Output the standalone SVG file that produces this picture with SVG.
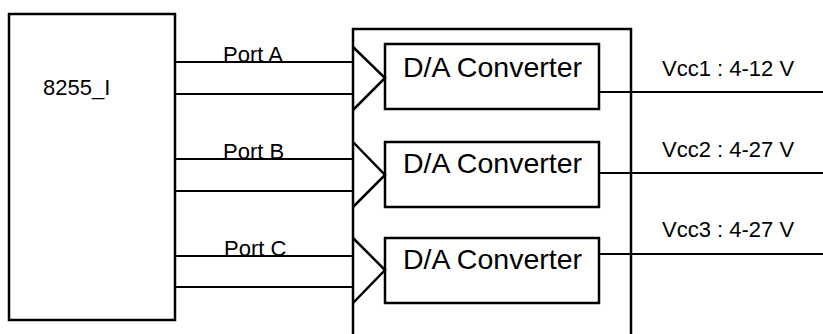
<svg xmlns="http://www.w3.org/2000/svg" width="823" height="334" viewBox="0 0 823 334">
<style>
.box{fill:none;stroke:#000;stroke-width:2.5}
.ln{fill:none;stroke:#000;stroke-width:2.2}
.t{font-family:"Liberation Sans",Arial,sans-serif;fill:#000}
.lab{font-size:22px}
.dac{font-size:28.5px}
.vcc{font-size:22px}
</style>
<rect width="823" height="334" fill="#fff"/>
<g id="chip">
<rect class="box" x="9" y="14" width="166" height="306"/>
<text class="t lab" x="43" y="95">8255_I</text>
</g>
<g id="module">
<path class="box" d="M353,334 V29 H631 V334"/>
</g>
<g id="dac1">
<rect class="box" x="385" y="44" width="214" height="65"/>
<text class="t dac" x="403" y="77">D/A Converter</text>
</g>
<g id="dac2">
<rect class="box" x="385" y="142" width="214" height="65"/>
<text class="t dac" x="403" y="173">D/A Converter</text>
</g>
<g id="dac3">
<rect class="box" x="385" y="238" width="214" height="65"/>
<text class="t dac" x="403" y="269">D/A Converter</text>
</g>
<g id="connectors">
<path class="ln" d="M175,62 H353 M175,94 H353 M175,159 H353 M175,191 H353 M175,256 H353 M175,287 H353"/>
<path class="box" d="M353,47 L385,78 L353,110 M353,142 L385,175 L353,207 M353,238 L385,270 L353,303"/>
<path class="ln" d="M599,92 H823 M599,173 H823 M599,254 H823"/>
<text class="t lab" x="223" y="62">Port A</text>
<text class="t lab" x="223" y="159">Port B</text>
<text class="t lab" x="224" y="256">Port C</text>
<text class="t vcc" x="662" y="76">Vcc1 : 4-12 V</text>
<text class="t vcc" x="662" y="157">Vcc2 : 4-27 V</text>
<text class="t vcc" x="662" y="237">Vcc3 : 4-27 V</text>
</g>
</svg>
